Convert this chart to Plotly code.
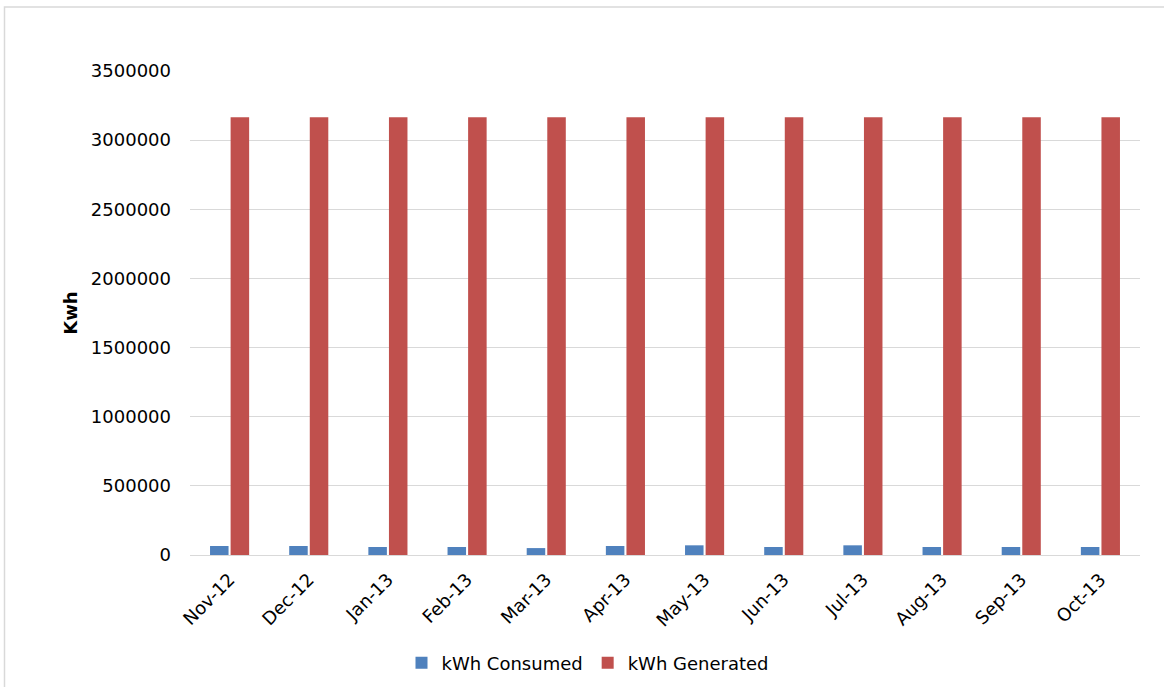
import plotly.graph_objects as go

months = ["Nov-12", "Dec-12", "Jan-13", "Feb-13", "Mar-13", "Apr-13",
          "May-13", "Jun-13", "Jul-13", "Aug-13", "Sep-13", "Oct-13"]
consumed = [65000, 65000, 58000, 58000, 50000, 65000,
            70000, 58000, 70000, 58000, 58000, 58000]
generated = [3165000] * 12
y_ticks = [0, 500000, 1000000, 1500000, 2000000, 2500000, 3000000, 3500000]

FONT = "DejaVu Sans, Verdana, sans-serif"

L, R, T, B = 190, 24, 71, 132
PW = 1164 - L - R
PH = 687 - T - B

def px(xp):
    return (xp - L) / PW

def py(yp):
    return (687 - B - yp) / PH

fig = go.Figure()
fig.add_trace(go.Bar(x=months, y=consumed, name="kWh Consumed",
                     marker=dict(color="#4f81bd", line=dict(width=0))))
fig.add_trace(go.Bar(x=months, y=generated, name="kWh Generated",
                     marker=dict(color="#c0504d", line=dict(width=0))))

fig.update_layout(
    width=1164, height=687,
    margin=dict(l=L, r=R, t=T, b=B, autoexpand=False),
    paper_bgcolor="white", plot_bgcolor="white",
    font=dict(family=FONT, size=18, color="#000000"),
    barmode="group", bargap=0.48, bargroupgap=0.1,
    showlegend=True,
    legend=dict(orientation="h", x=px(588), xanchor="center",
                y=py(663), yanchor="middle", font=dict(size=18),
                itemwidth=30, traceorder="normal"),
    shapes=[dict(type="rect", xref="paper", yref="paper",
                 x0=px(4.5), x1=px(1200), y0=py(720), y1=py(7),
                 line=dict(color="#d9d9d9", width=1.5), layer="below")],
)
fig.update_xaxes(tickangle=-45, showline=True, linecolor="#d9d9d9",
                 linewidth=1, ticks="", showgrid=False, automargin=False,
                 tickfont=dict(size=18), ticklabelstandoff=6)
fig.update_yaxes(range=[0, 3500000], tickvals=y_ticks,
                 ticktext=[str(v) for v in y_ticks],
                 showgrid=True, gridcolor="#d9d9d9", gridwidth=1,
                 zeroline=False, showline=False, ticks="", automargin=False,
                 tickfont=dict(size=18), ticklabelstandoff=18,
                 title=dict(text="<b>Kwh</b>", font=dict(size=18), standoff=8))

fig.write_html("out.html")
